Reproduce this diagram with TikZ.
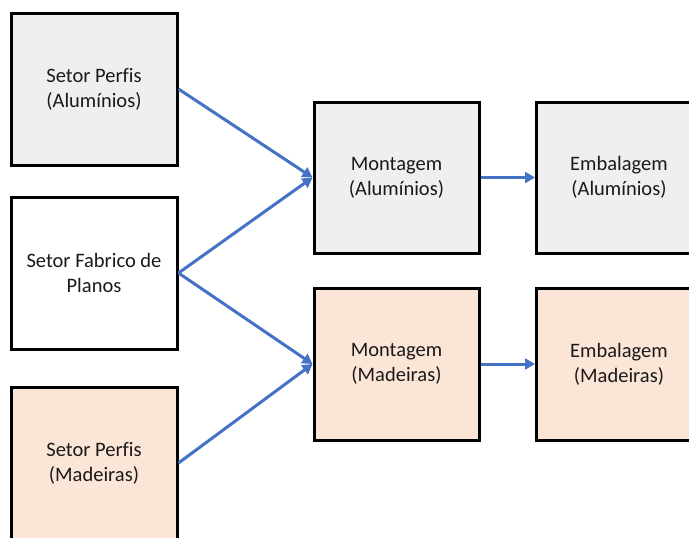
\documentclass[tikz,border=0pt]{standalone}
\usepackage{fontspec}
\setmainfont{Carlito}[Ligatures=NoCommon]
\usetikzlibrary{arrows.meta}
\definecolor{lnblue}{HTML}{4472C4}
\definecolor{lgray}{HTML}{EFEFEF}
\definecolor{peach}{HTML}{FBE5D6}
\definecolor{txt}{HTML}{1A1A1A}
\begin{document}
\begin{tikzpicture}[x=1pt,y=-1pt,
  box/.style={draw=black, line width=3pt, minimum width=166pt, minimum height=152pt,
    inner sep=0pt, align=center, font=\fontsize{20.5}{25}\selectfont, text=txt},
  graybox/.style={box, fill=lgray},
  whitebox/.style={box, fill=white},
  peachbox/.style={box, fill=peach},
  conn/.style={draw=lnblue, line width=3pt, -{Triangle[length=10pt,width=11pt]}}]
\useasboundingbox (0,0) rectangle (689,538);
\clip (0,0) rectangle (689,538);
\node[graybox] (s1) at (94,89) {Setor Perfis\\(Alumínios)};
\node[whitebox] (s2) at (94,273) {Setor Fabrico de\\Planos};
\node[peachbox] (s3) at (94,463) {Setor Perfis\\(Madeiras)};
\node[graybox, minimum width=165pt, minimum height=151pt] (m1) at (396.5,177.5) {Montagem\\(Alumínios)};
\node[peachbox, minimum width=165pt] (m2) at (396.5,364) {Montagem\\(Madeiras)};
\node[graybox, minimum width=165pt, minimum height=151pt] (e1) at (619,177.5) {Embalagem\\(Alumínios)};
\node[peachbox, minimum width=165pt] (e2) at (619,364) {Embalagem\\(Madeiras)};
\draw[conn] (s1.east) -- (m1.west);
\draw[conn] (s2.east) -- (m1.west);
\draw[conn] (s2.east) -- (m2.west);
\draw[conn] (s3.east) -- (m2.west);
\draw[conn] (m1.east) -- (e1.west);
\draw[conn] (m2.east) -- (e2.west);
\end{tikzpicture}
\end{document}
